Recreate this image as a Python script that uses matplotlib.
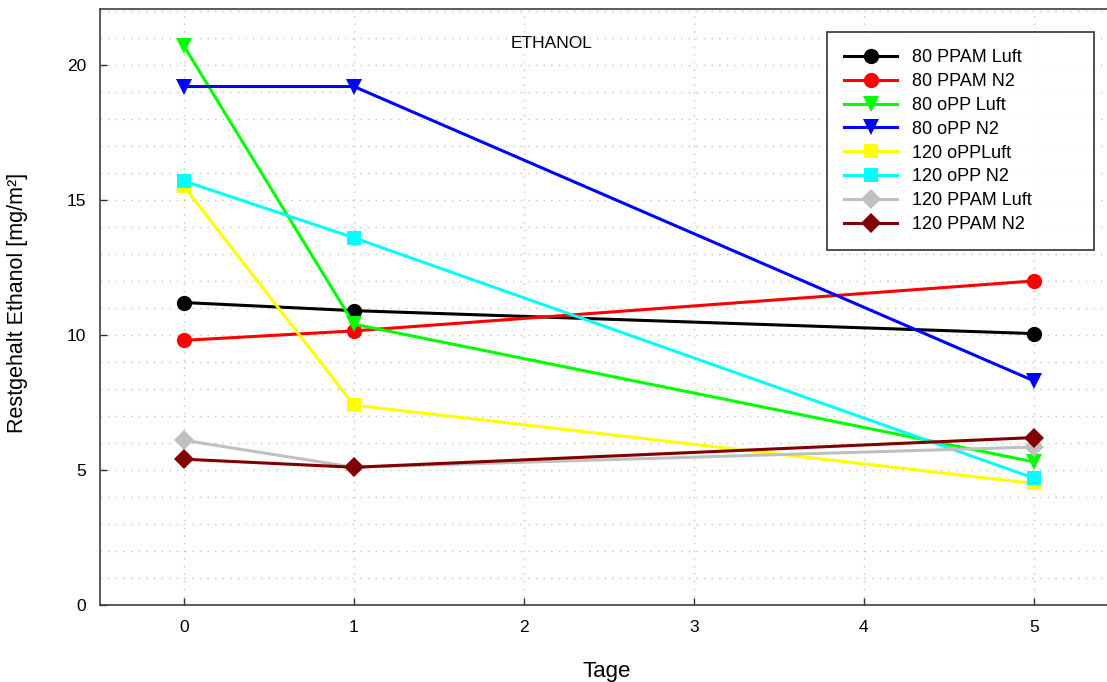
import numpy as np
import matplotlib
matplotlib.use("Agg")
import matplotlib.pyplot as plt
from matplotlib.ticker import MultipleLocator

plt.rcParams['font.family'] = ['Liberation Sans', 'DejaVu Sans']

# Data
tage = [0, 1, 5]
labels = ['80 PPAM Luft', '80 PPAM N2', '80 oPP Luft', '80 oPP N2',
          '120 oPPLuft', '120 oPP N2', '120 PPAM Luft', '120 PPAM N2']
ppam80_luft = [11.2, 10.9, 10.05]
ppam80_n2 = [9.8, 10.15, 12.0]
opp80_luft = [20.7, 10.4, 5.3]
opp80_n2 = [19.2, 19.2, 8.3]
opp120_luft = [15.5, 7.4, 4.5]
opp120_n2 = [15.7, 13.6, 4.7]
ppam120_luft = [6.1, 5.1, 5.85]
ppam120_n2 = [5.4, 5.1, 6.2]

series = [ppam80_luft, ppam80_n2, opp80_luft, opp80_n2,
          opp120_luft, opp120_n2, ppam120_luft, ppam120_n2]
colors = ['#000000', '#ff0000', '#00ff00', '#0000ff',
          '#ffff00', '#00ffff', '#c0c0c0', '#800000']
markers = ['o', 'o', 'v', 'v', 's', 's', 'D', 'D']
msizes = [11, 11, 12, 12, 10, 10, 10, 10]

fig = plt.figure(figsize=(11.07, 6.82), dpi=100)
ax = fig.add_axes([100/1107, 77/682, 1007/1107, 596/682])

for y, lab, c, m, ms in zip(series, labels, colors, markers, msizes):
    ax.plot(tage, y, color=c, marker=m, markersize=ms, linewidth=2.2,
            label=lab, markeredgewidth=0)

ax.set_xlim(-0.494, 5.43)
ax.set_ylim(0, 22.07)
ax.xaxis.set_major_locator(MultipleLocator(1))
ax.yaxis.set_major_locator(MultipleLocator(5))
ax.yaxis.set_minor_locator(MultipleLocator(1))
ax.tick_params(axis='both', which='major', direction='in', length=5,
               width=1, labelsize=12.5, color='#303030')
ax.tick_params(axis='y', which='minor', length=0)
ax.tick_params(axis='x', pad=11)
ax.tick_params(axis='y', pad=10)
ax.grid(True, which='both', linestyle=(0, (1, 4.5)), color='#c4c4c4', linewidth=1)
ax.set_axisbelow(True)

ax.spines['right'].set_visible(False)
for s in ['left', 'bottom', 'top']:
    ax.spines[s].set_color('#404040')
    ax.spines[s].set_linewidth(1.2)

ax.set_xlabel('Tage', fontsize=16, va='center')
ax.xaxis.set_label_coords(507/1007, -66/596)
ax.set_ylabel('Restgehalt Ethanol [mg/m²]', fontsize=15.5, va='center')
ax.yaxis.set_label_coords(-82/1007, 302/596)
ax.text(452/1007, 562/596, 'ETHANOL', transform=ax.transAxes, ha='center',
        va='center', fontsize=12.5)

leg = ax.legend(loc='upper left', bbox_to_anchor=(727/1007, 0.9614 - 0.3, 267/1007, 0.3),
                mode='expand', fontsize=13, frameon=True, fancybox=False,
                handlelength=2.93, borderpad=0.95, labelspacing=0.38,
                handletextpad=0.83, borderaxespad=0)
leg.get_frame().set_edgecolor('black')
leg.get_frame().set_linewidth(1.2)

fig.savefig('out.png', dpi=100)
